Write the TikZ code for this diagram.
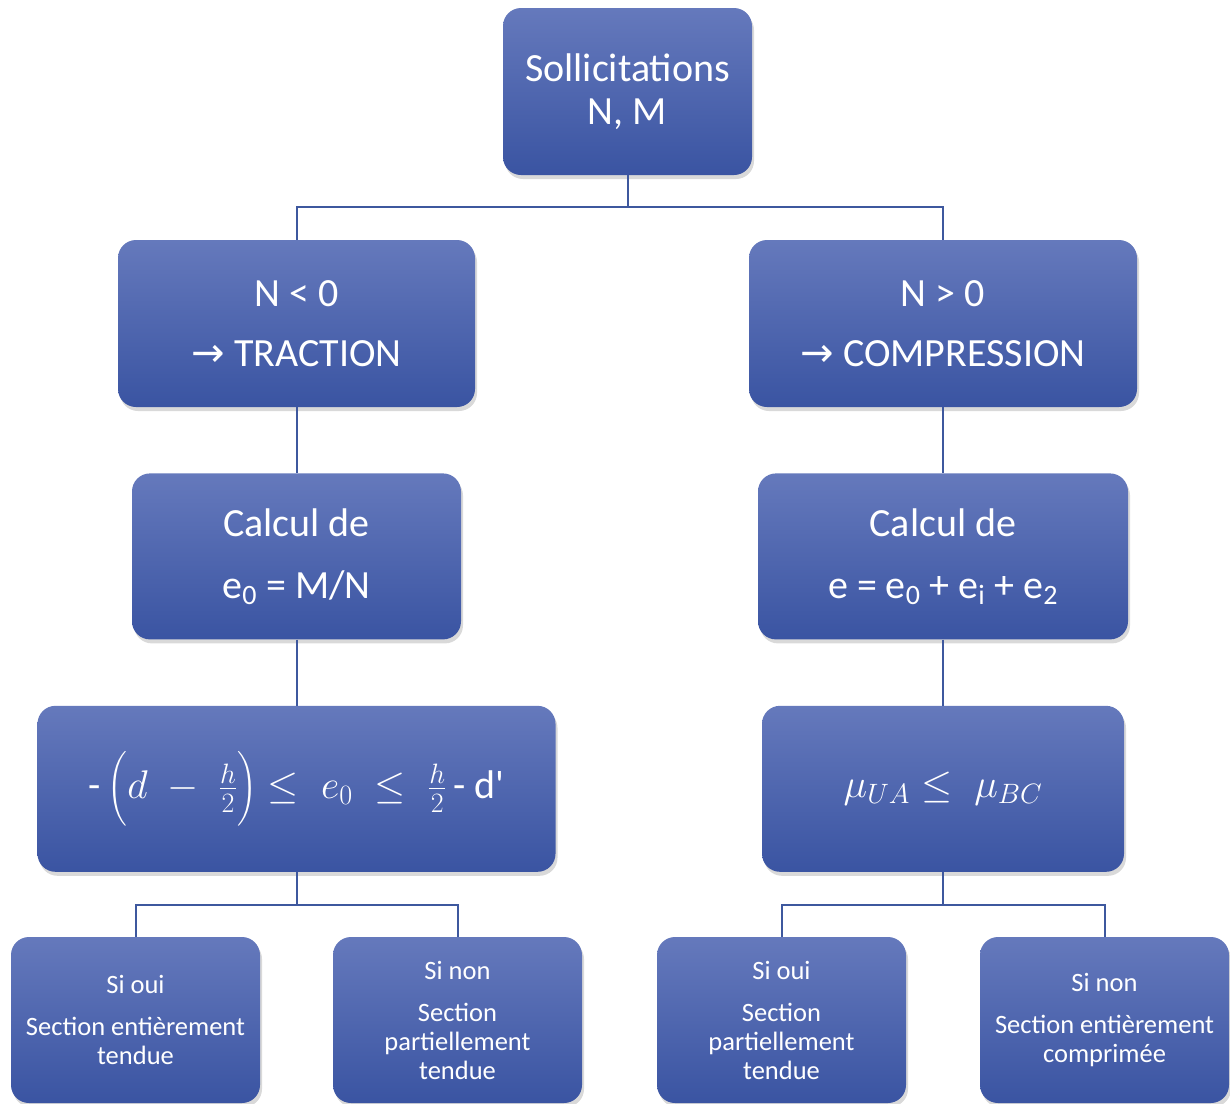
\RequirePackage{fix-cm}
\documentclass[tikz,border=0pt]{standalone}
\usepackage{exscale}
\usepackage{fontspec}
\setmainfont{Carlito}
\newfontfamily\symfont{DejaVu Sans}
\usepackage{tikz}
\usetikzlibrary{positioning, shadows}
\definecolor{boxtop}{RGB}{101,121,188}
\definecolor{boxbot}{RGB}{58,84,162}
\definecolor{linkblue}{RGB}{62,88,158}
\tikzstyle{block} = [rectangle, rounded corners=18pt, top color=boxtop, bottom color=boxbot, draw=none, text=white, align=center, inner sep=0pt, minimum height=166pt, drop shadow={shadow xshift=2pt, shadow yshift=-4pt, opacity=0.3}, font=\fontsize{40}{43}\selectfont]
\tikzstyle{leaf} = [block, minimum width=249pt, font=\fontsize{26.5}{29}\selectfont]
\tikzstyle{line} = [draw=linkblue, line width=2pt]

\begin{document}
\begin{tikzpicture}[x=1pt, y=1pt]
    \useasboundingbox (0,0) rectangle (1230,-1103);

    % top
    \node (sollic) [block, minimum width=249pt, minimum height=167pt] at (627.5,-91.5) {Sollicitations\\N, M};

    % second level
    \node (trac) [block, minimum width=357pt, minimum height=167pt] at (296.5,-323.5) {N < 0\\[17pt]{\symfont →} TRACTION};
    \node (comp) [block, minimum width=388pt, minimum height=167pt] at (943,-323.5) {N > 0\\[17pt]{\symfont →} COMPRESSION};

    % eccentricity
    \node (calcL) [block, minimum width=329pt, below=66pt of trac] {Calcul de\\[19pt]e\textsubscript{0} = M/N};
    \node (calcR) [block, minimum width=370pt, below=66pt of comp] {Calcul de\\[19pt]e = e\textsubscript{0} + e\textsubscript{i} + e\textsubscript{2}};

    % conditions
    \node (condL) [block, minimum width=518pt, below=66pt of calcL] {-\,$\Bigl(d\;-\;\frac{h}{2}\Bigr)\le\;e_0\;\le\;\frac{h}{2}$\,- d\textquotesingle};
    \node (condR) [block, minimum width=362pt, below=66pt of calcR] {$\mu_{UA}\le\;\mu_{BC}$};

    % results
    \node (ouiL) [leaf] at (135.5,-1020) {Si oui\\[13pt]Section entièrement\\tendue};
    \node (nonL) [leaf] at (457.5,-1020) {Si non\\[13pt]Section\\partiellement\\tendue};
    \node (ouiR) [leaf] at (781.5,-1020) {Si oui\\[13pt]Section\\partiellement\\tendue};
    \node (nonR) [leaf] at (1104.5,-1020) {Si non\\[13pt]Section entièrement\\comprimée};

    \draw[line] (sollic.south) -- ++(0,-32) -| (trac.north);
    \draw[line] (sollic.south) -- ++(0,-32) -| (comp.north);
    \draw[line] (trac) -- (calcL);
    \draw[line] (calcL) -- (condL);
    \draw[line] (comp) -- (calcR);
    \draw[line] (calcR) -- (condR);
    \draw[line] (condL.south) -- ++(0,-33) -| (ouiL.north);
    \draw[line] (condL.south) -- ++(0,-33) -| (nonL.north);
    \draw[line] (condR.south) -- ++(0,-33) -| (ouiR.north);
    \draw[line] (condR.south) -- ++(0,-33) -| (nonR.north);
\end{tikzpicture}
\end{document}
